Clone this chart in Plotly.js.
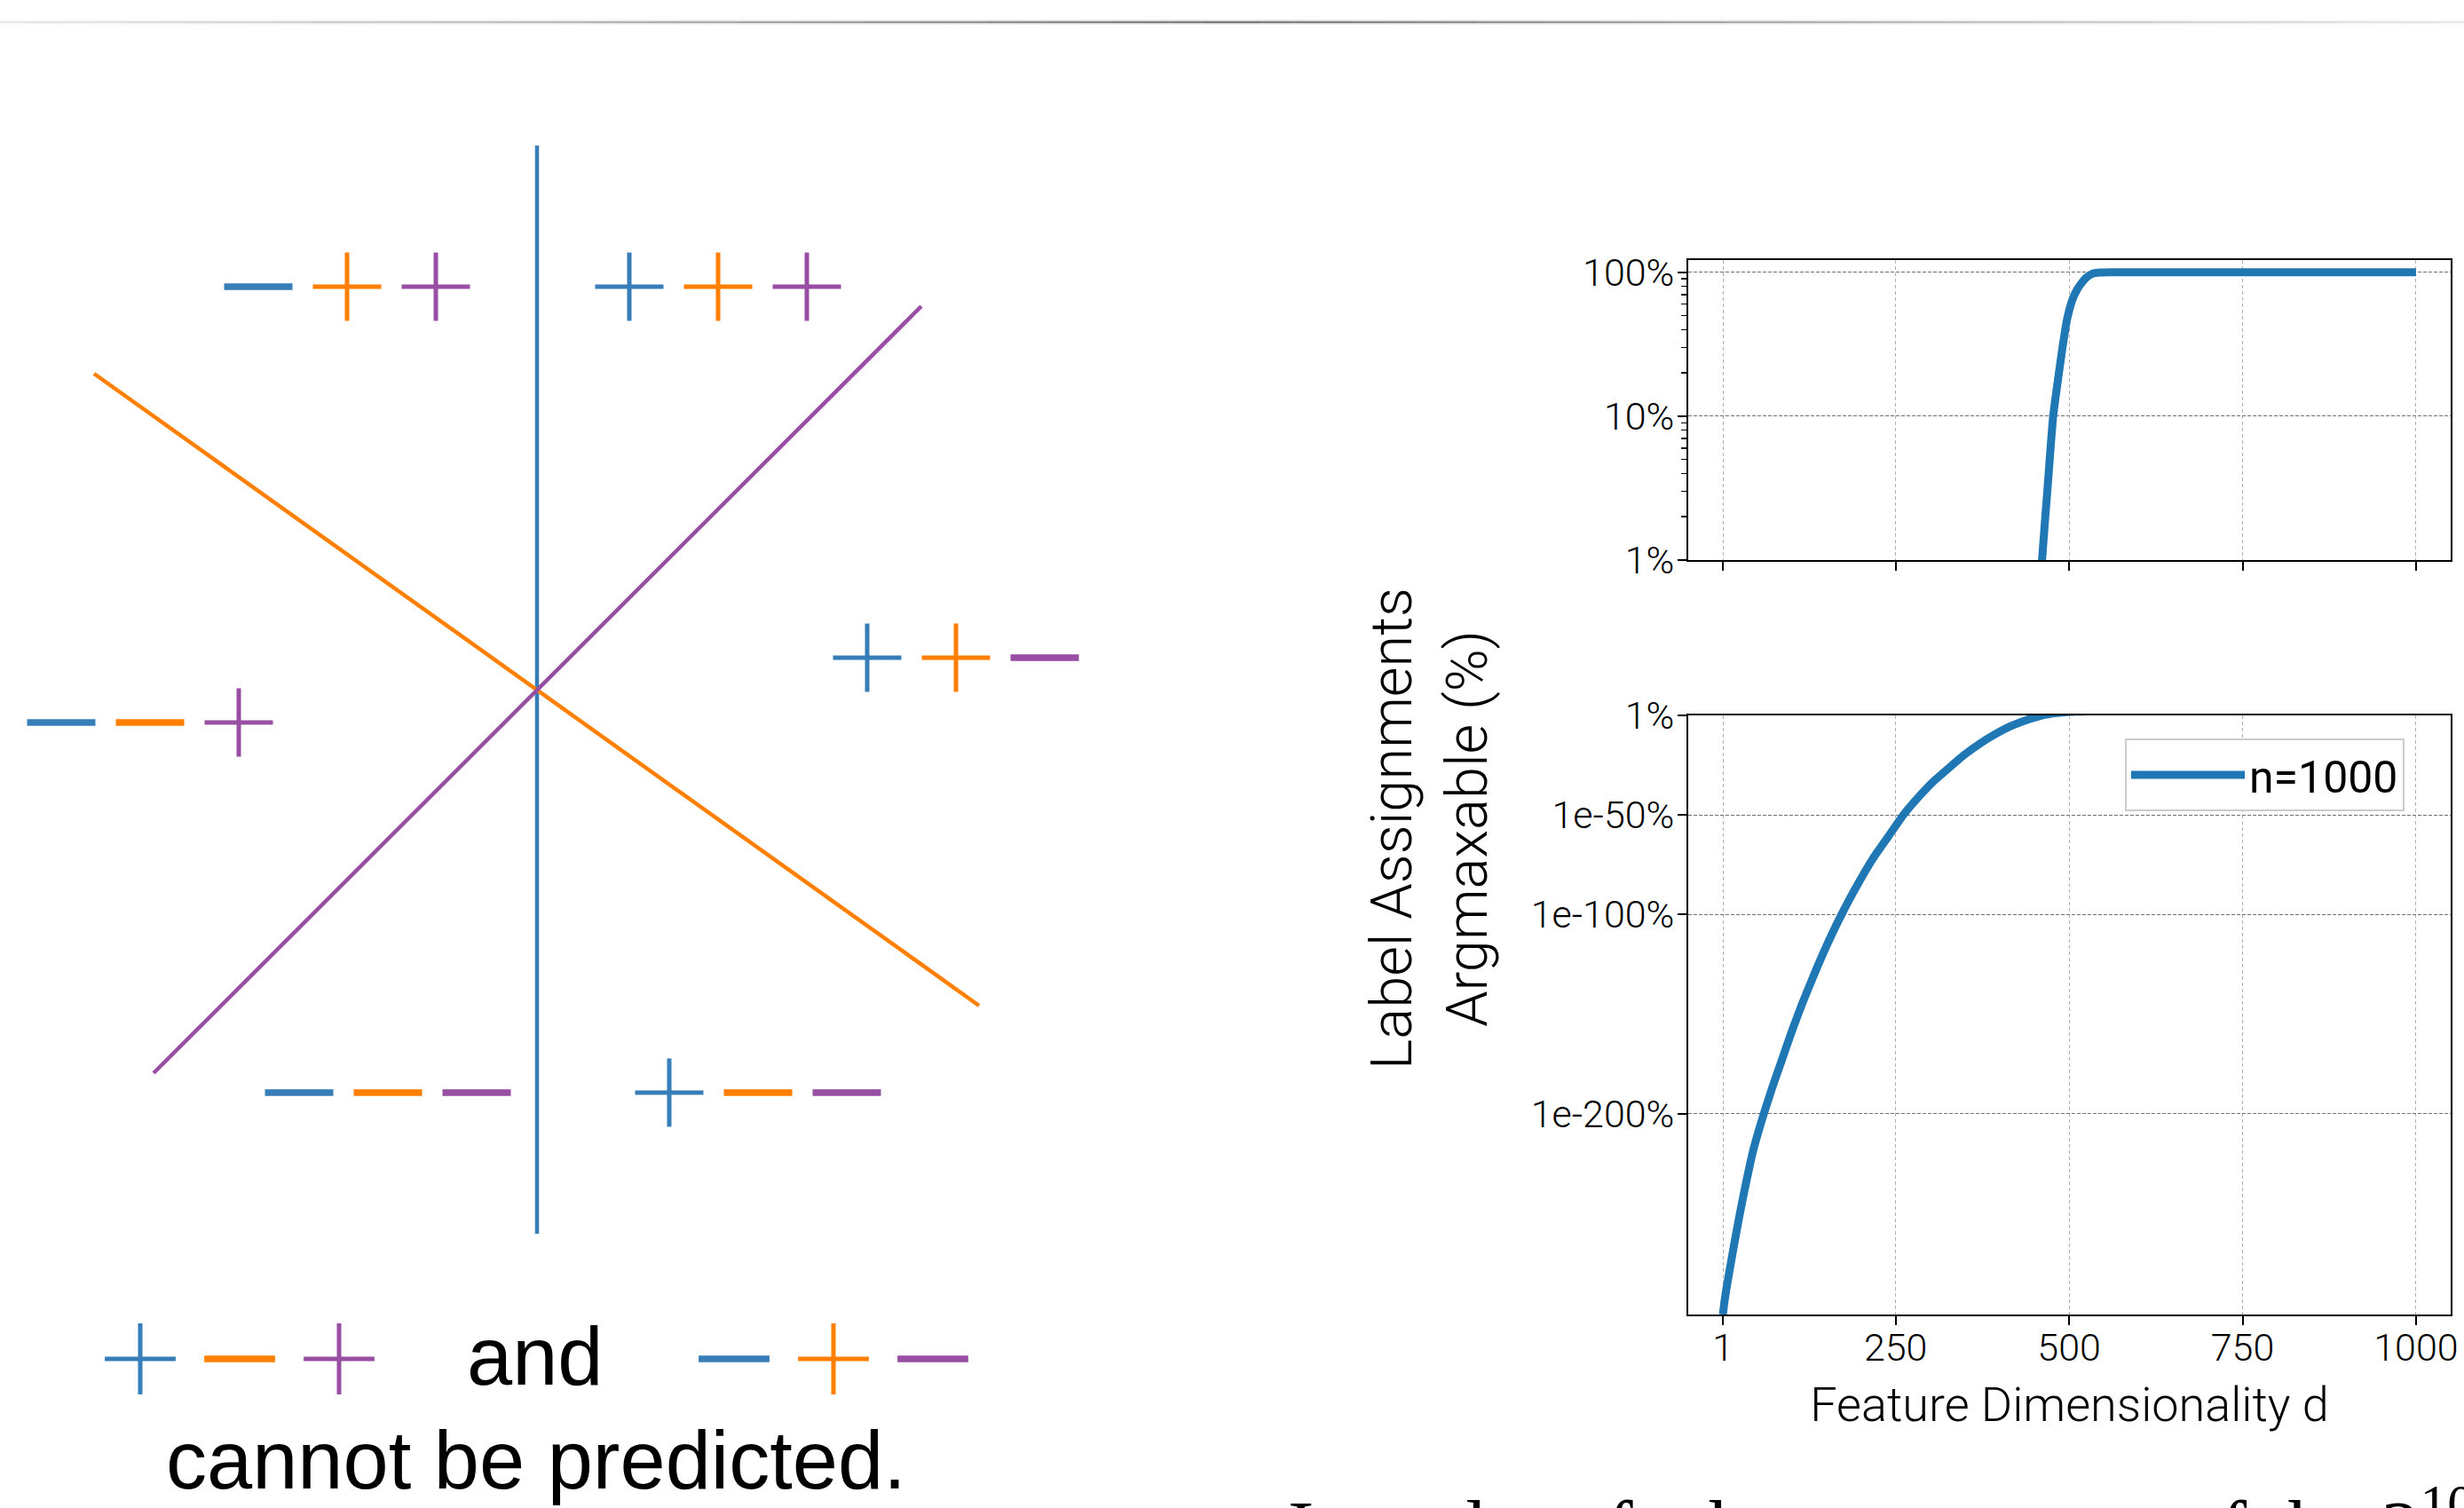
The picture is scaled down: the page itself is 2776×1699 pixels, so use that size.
<!DOCTYPE html>
<html>
<head>
<meta charset="utf-8">
<script src="https://cdn.plot.ly/plotly-3.0.1.min.js"></script>
<style>
html,body{margin:0;padding:0;background:#ffffff;overflow:hidden;}
#chart{width:2776px;height:1699px;}
</style>
</head>
<body>
<div id="chart"></div>
<script>
// ---------------- chart data ----------------
const dims = [1, 3, 6, 10, 17, 25, 33, 45, 60, 72, 85, 100, 115, 135, 150, 172, 195, 217, 240, 261, 283, 305, 328, 350, 372, 393, 415, 437, 450, 461, 469, 477, 484, 490, 497, 505, 511, 517, 525, 534, 545, 560, 1000];
const pctArgmaxable = [1.6e-301, 1e-295, 1e-288, 1e-280, 1e-266, 1e-251, 1e-237, 1e-218, 1e-200, 1e-187, 1e-174, 1e-159, 1e-145, 1e-128, 1e-116, 1e-100, 1e-85, 1e-72, 3e-61, 1e-50, 1e-41, 1e-33, 1e-26, 3e-20, 1e-14, 3e-10, 3e-6, 3e-3, 0.08, 1, 3.2, 10, 18, 29, 47, 65, 75, 83, 92, 98, 99.6, 100, 100];
const seriesName = 'n=1000';
const xTickVals = [1, 250, 500, 750, 1000];
const xTickText = ['1', '250', '500', '750', '1000'];
const topYTickVals = [1, 10, 100];
const topYTickText = ['1%', '10%', '100%'];
const bottomYTickVals = [1, 1e-50, 1e-100, 1e-200];
const bottomYTickText = ['1%', '1e-50%', '1e-100%', '1e-200%'];
const xTitle = 'Feature Dimensionality d';
const yTitle = 'Label Assignments<br>Argmaxable (%)';

// ---------------- diagram data ----------------
const classifierColors = ['#377eb8', '#ff7f00', '#984ea3'];
const boundaryX = [[605, 605], [106, 1103], [173, 1038]];
const boundaryY = [[164, 1390], [421, 1133], [1209, 345]];
const regionSignX = [291, 391, 491, 709, 809, 909, 977, 1077, 1177, 69, 169, 269, 337, 437, 537, 754, 854, 954];
const regionSignY = [323, 323, 323, 323, 323, 323, 741, 741, 741, 814, 814, 814, 1231, 1231, 1231, 1231, 1231, 1231];
const regionSigns = ['-', '+', '+', '+', '+', '+', '+', '+', '-', '-', '-', '+', '-', '-', '-', '+', '-', '-'];
const exampleSignX = [158, 270, 382, 827, 939, 1051];
const exampleSignY = [1531, 1531, 1531, 1531, 1531, 1531];
const exampleSigns = ['+', '-', '+', '-', '+', '-'];
const textAnd = 'and';
const textCannot = 'cannot be predicted.';
const textBottom = 'In a plot of what percentage of the 2<sup>1000</sup>';

// ---------------- helpers ----------------
const W = 2776, H = 1699;
const px = v => v / W;
const py = v => 1 - v / H;
const lineBlue = '#1f77b4';

function signTrace(xs, ys, signs, size) {
  const colors = signs.map((s, i) => classifierColors[i % 3]);
  return {
    type: 'scatter', mode: 'markers', xaxis: 'x3', yaxis: 'y3',
    x: xs, y: ys, showlegend: false, hoverinfo: 'skip',
    marker: {
      symbol: signs.map(s => s === '+' ? 'cross-thin' : 'line-ew'),
      size: size,
      color: colors,
      line: { color: colors, width: signs.map(s => s === '+' ? 5 : 7.5) }
    }
  };
}

const traces = [];
for (let k = 0; k < 3; k++) {
  traces.push({
    type: 'scatter', mode: 'lines', xaxis: 'x3', yaxis: 'y3',
    x: boundaryX[k], y: boundaryY[k], showlegend: false, hoverinfo: 'skip',
    line: { color: classifierColors[k], width: 4.5 }
  });
}
traces.push(signTrace(regionSignX, regionSignY, regionSigns, 55));
traces.push(signTrace(exampleSignX, exampleSignY, exampleSigns, 57));

traces.push({
  type: 'scatter', mode: 'lines', xaxis: 'x', yaxis: 'y',
  x: dims, y: pctArgmaxable, name: seriesName, showlegend: false,
  line: { color: lineBlue, width: 9, shape: 'spline', smoothing: 0.5 }
});
traces.push({
  type: 'scatter', mode: 'lines', xaxis: 'x2', yaxis: 'y2',
  x: dims, y: pctArgmaxable, name: seriesName, showlegend: true,
  line: { color: lineBlue, width: 9, shape: 'spline', smoothing: 0.5 }
});

const tickFont = { family: 'Roboto, sans-serif', size: 43, color: '#000', weight: 300 };
const xDomain = [px(1902), px(2761)];
const xRange = [-48.95, 1049.95];

const commonX = {
  domain: xDomain, range: xRange, tickmode: 'array', tickvals: xTickVals,
  showline: true, linecolor: '#000', linewidth: 2, mirror: true,
  ticks: 'outside', ticklen: 10, tickwidth: 2, tickcolor: '#000',
  showgrid: true, gridcolor: '#b0b0b0', gridwidth: 1, griddash: '4px,3px',
  zeroline: false, tickfont: tickFont, fixedrange: true
};
const commonY = {
  type: 'log', tickmode: 'array',
  showline: true, linecolor: '#000', linewidth: 2, mirror: true,
  ticks: 'outside', ticklen: 10, tickwidth: 2, tickcolor: '#000',
  showgrid: true, gridcolor: '#707070', gridwidth: 1, griddash: '4px,2px',
  zeroline: false, tickfont: tickFont, fixedrange: true, ticklabelstandoff: -5
};

// decorative header rule (fades toward both edges)
const shapes = [];
const nSeg = 80;
const ruleY = py(25);
for (let i = 0; i < nSeg; i++) {
  const t0 = i / nSeg, t1 = (i + 1) / nSeg, tm = (t0 + t1) / 2;
  const w = 1 - Math.abs(tm - 0.5) * 2;
  shapes.push({ type: 'line', xref: 'paper', yref: 'paper', x0: t0, x1: t1, y0: ruleY, y1: ruleY,
    line: { color: 'rgb(120,120,120)', width: 5 }, opacity: 0.05 + 0.25 * Math.pow(w, 1.2), layer: 'below' });
  shapes.push({ type: 'line', xref: 'paper', yref: 'paper', x0: t0, x1: t1, y0: ruleY, y1: ruleY,
    line: { color: 'rgb(70,70,70)', width: 2 }, opacity: 0.08 + 0.55 * Math.pow(w, 1.2), layer: 'below' });
}

const layout = {
  width: W, height: H,
  margin: { l: 0, r: 0, t: 0, b: 0, pad: 0 },
  paper_bgcolor: '#ffffff', plot_bgcolor: 'rgba(0,0,0,0)',
  font: { family: 'Roboto, sans-serif', color: '#000' },
  showlegend: true,
  legend: {
    x: px(2394), y: py(832), xanchor: 'left', yanchor: 'top',
    bgcolor: '#ffffff', bordercolor: '#cccccc', borderwidth: 2,
    font: { family: 'Roboto, sans-serif', size: 50, color: '#000' },
    itemwidth: 128
  },
  xaxis: Object.assign({}, commonX, { anchor: 'y', showticklabels: false }),
  yaxis: Object.assign({}, commonY, {
    anchor: 'x', domain: [py(631), py(293)], range: [0, 2.085],
    tickvals: topYTickVals, ticktext: topYTickText,
    minor: { ticks: 'outside', ticklen: 6, tickwidth: 1.5, tickcolor: '#000', dtick: 'D1', showgrid: false }
  }),
  xaxis2: Object.assign({}, commonX, {
    anchor: 'y2', ticktext: xTickText, showticklabels: true, ticklabelstandoff: -12,
    title: { text: xTitle, font: { family: 'Roboto, sans-serif', size: 54, color: '#000', weight: 300 }, standoff: 22 }
  }),
  yaxis2: Object.assign({}, commonY, {
    anchor: 'x2', domain: [py(1481), py(806)], range: [-300.8, 0],
    tickvals: bottomYTickVals, ticktext: bottomYTickText
  }),
  xaxis3: { domain: [0, 1], range: [0, W], visible: false, fixedrange: true, anchor: 'y3' },
  yaxis3: { domain: [0, 1], range: [H, 0], visible: false, fixedrange: true, anchor: 'x3' },
  shapes: shapes,
  annotations: [
    { text: yTitle, xref: 'paper', yref: 'paper', x: px(1610), y: py(934), textangle: -90,
      showarrow: false, xanchor: 'center', yanchor: 'middle',
      font: { family: 'Roboto, sans-serif', size: 65, color: '#000', weight: 300 } },
    { text: textAnd, xref: 'x3', yref: 'y3', x: 603, y: 1528, showarrow: false,
      xanchor: 'center', yanchor: 'middle',
      font: { family: 'Liberation Sans, Arial, sans-serif', size: 92, color: '#000' } },
    { text: textCannot, xref: 'x3', yref: 'y3', x: 604, y: 1645, showarrow: false,
      xanchor: 'center', yanchor: 'middle',
      font: { family: 'Liberation Sans, Arial, sans-serif', size: 92, color: '#000' } },
    { text: textBottom, xref: 'paper', yref: 'paper', x: px(1449), y: py(1773), showarrow: false,
      xanchor: 'left', yanchor: 'bottom',
      font: { family: 'Liberation Serif, serif', size: 88, color: '#000' } }
  ]
};

Plotly.newPlot('chart', traces, layout, { staticPlot: true, displayModeBar: false });
</script>
</body>
</html>
